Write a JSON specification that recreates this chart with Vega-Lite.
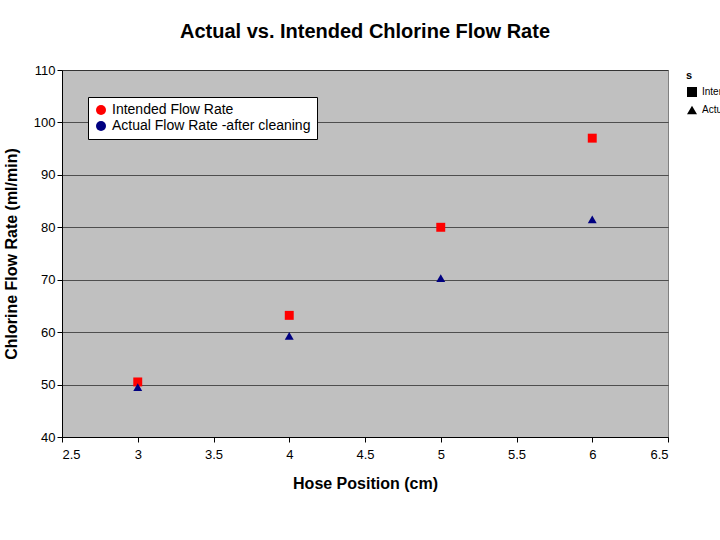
{
"$schema":"https://vega.github.io/schema/vega-lite/v6.json",
"width":606,"height":367,
"autosize":{"type":"none"},
"padding":{"left":62,"top":70,"right":52,"bottom":103},
"background":"white",
"title":{"text":"Actual vs. Intended Chlorine Flow Rate","font":"Liberation Sans","fontSize":20,"fontWeight":"bold","color":"black","offset":22,"anchor":"middle"},
"config":{"view":{"fill":"#c0c0c0","stroke":"#808080"},
"axis":{"labelFont":"Liberation Sans","labelFontSize":13,"labelColor":"black","titleFont":"Liberation Sans","titleFontSize":16,"titleColor":"black","domainColor":"black","tickColor":"black"}},
"data":{"values":[
{"x":3,"y":50.5,"s":"Intended Flow Rate"},
{"x":4,"y":63.2,"s":"Intended Flow Rate"},
{"x":5,"y":80,"s":"Intended Flow Rate"},
{"x":6,"y":97,"s":"Intended Flow Rate"},
{"x":3,"y":49.5,"s":"Actual Flow Rate -after cleaning"},
{"x":4,"y":59.3,"s":"Actual Flow Rate -after cleaning"},
{"x":5,"y":70.3,"s":"Actual Flow Rate -after cleaning"},
{"x":6,"y":81.5,"s":"Actual Flow Rate -after cleaning"}
]},
"mark":{"type":"point","filled":true,"size":80,"opacity":1},
"encoding":{
"x":{"field":"x","type":"quantitative","scale":{"domain":[2.5,6.5]},"axis":{"values":[2.5,3,3.5,4,4.5,5,5.5,6,6.5],"format":"~g","grid":false,"title":"Hose Position (cm)","titlePadding":14,"labelPadding":6}},
"y":{"field":"y","type":"quantitative","scale":{"domain":[40,110]},"axis":{"values":[40,50,60,70,80,90,100,110],"grid":true,"gridColor":"black","gridWidth":0.6,"title":"Chlorine Flow Rate (ml/min)","titlePadding":14}},
"color":{"field":"s","type":"nominal","sort":["Intended Flow Rate","Actual Flow Rate -after cleaning"],"scale":{"range":["#ff0000","#000080"]},"legend":{"title":null,"orient":"none","legendX":26,"legendY":27,"fillColor":"white","strokeColor":"black","padding":6,"labelFont":"Liberation Sans","labelFontSize":14,"labelColor":"black","labelLimit":400}},
"shape":{"field":"s","type":"nominal","sort":["Intended Flow Rate","Actual Flow Rate -after cleaning"],"scale":{"range":["square","triangle-up"]}}
}
}
